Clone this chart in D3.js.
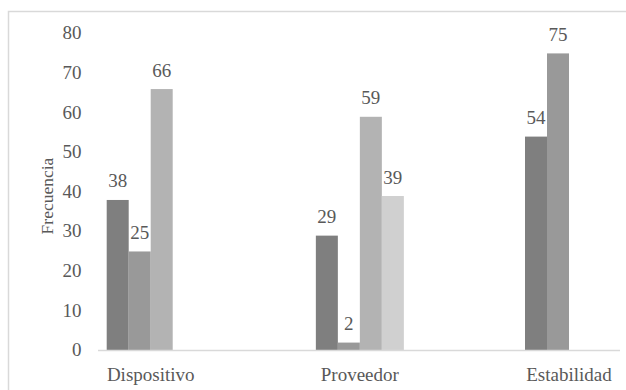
<!DOCTYPE html>
<html><head><meta charset="utf-8">
<script src="https://cdn.jsdelivr.net/npm/d3@7"></script>
<style>
html,body{margin:0;padding:0;background:#fff;}
</style></head>
<body><svg id="c" width="626" height="390"></svg>
<script>
const categories = ["Dispositivo","Proveedor","Estabilidad"];
const seriesNames = ["S1","S2","S3","S4"];
const s1 = [38, 29, 54];
const s2 = [25, 2, 75];
const s3 = [66, 59, null];
const s4 = [null, 39, null];
const yTicks = [0,10,20,30,40,50,60,70,80];
const colors = ["#7f7f7f","#999999","#b3b3b3","#d0d0d0"];
const seriesValues = [s1,s2,s3,s4];
const FONT = "'Liberation Serif', Tinos, 'Times New Roman', 'DejaVu Serif', serif";

const svg = d3.select("#c");
svg.style("font-family", FONT);
// outer border
svg.append("rect").attr("x",8.5).attr("y",11.5).attr("width",640).attr("height",400)
  .attr("fill","none").attr("stroke","#d9d9d9").attr("stroke-width",1.5);

const x0 = d3.scalePoint().domain(categories).range([150.7, 569]);
const x1 = d3.scaleBand().domain(seriesNames).range([-44, 44]);
const y = d3.scaleLinear().domain([0,80]).range([350.5, 33.6]);

function txt(sel){ return sel.attr("font-family", FONT).attr("fill","#595959"); }

// y tick labels
svg.append("g").selectAll("text").data(yTicks).join("text")
  .call(txt)
  .attr("x",81.5).attr("y",d=>y(d)+5.8).attr("text-anchor","end")
  .attr("font-size",19).text(d=>d);

// bars
const data = [];
categories.forEach((c,i)=>seriesNames.forEach((s,j)=>{
  const v = seriesValues[j][i];
  if (v!=null) data.push({c,s,v,j});
}));
svg.append("g").selectAll("rect").data(data).join("rect")
  .attr("x",d=>x0(d.c)+x1(d.s)).attr("width",x1.bandwidth())
  .attr("y",d=>y(d.v)).attr("height",d=>y(0)-y(d.v))
  .attr("fill",d=>colors[d.j]);

// data labels
svg.append("g").selectAll("text").data(data).join("text")
  .call(txt)
  .attr("x",d=>x0(d.c)+x1(d.s)+x1.bandwidth()/2).attr("y",d=>y(d.v)-12.5)
  .attr("text-anchor","middle").attr("font-size",19).text(d=>d.v);

// x axis line
svg.append("line").attr("x1",98).attr("x2",620).attr("y1",y(0)).attr("y2",y(0))
  .attr("stroke","#d9d9d9").attr("stroke-width",1.5);

// category labels
svg.append("g").selectAll("text").data(categories).join("text")
  .call(txt)
  .attr("x",d=>x0(d)).attr("y",380.7).attr("text-anchor","middle")
  .attr("font-size",19).text(d=>d);

// y axis title
svg.append("text").call(txt).attr("transform","translate(52.5,196) rotate(-90)")
  .attr("text-anchor","middle").attr("font-size",17.5).text("Frecuencia");
</script></body></html>
